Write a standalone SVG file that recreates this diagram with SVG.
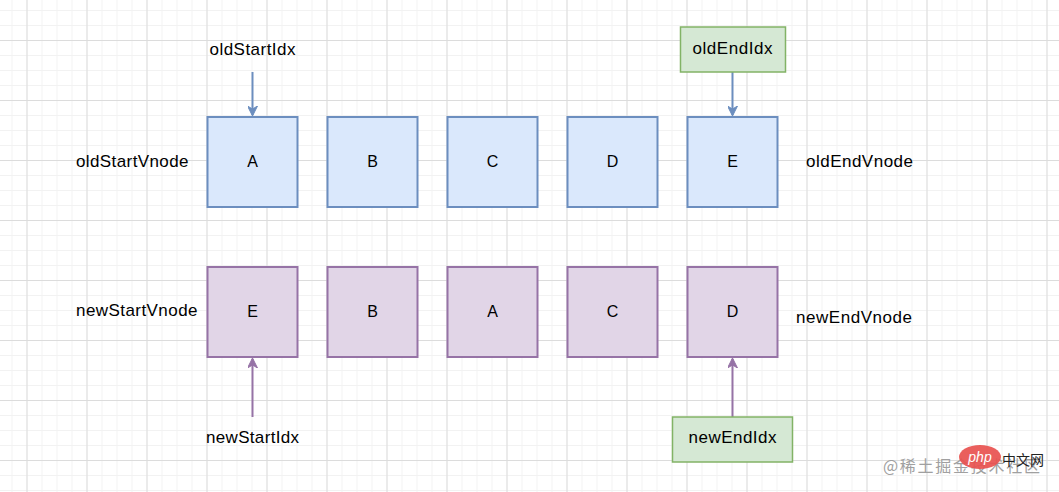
<svg xmlns="http://www.w3.org/2000/svg" width="1059" height="492" viewBox="0 0 1059 492">
<style>
text{font-family:"Liberation Sans",Arial,sans-serif;font-size:16px;fill:#000}
.lbl{font-size:17px}
.blue{fill:#dae8fc;stroke:#6c8ebf;stroke-width:2}
.purple{fill:#e1d5e7;stroke:#9673a6;stroke-width:2}
.green{fill:#d5e8d4;stroke:#82b366;stroke-width:1.5}
.mid{text-anchor:middle}
.cb{stroke:#6c8ebf;stroke-width:2;fill:none}
.cp{stroke:#9673a6;stroke-width:2;fill:none}
</style>
<defs>
<pattern id="minor" patternUnits="userSpaceOnUse" x="11.5" y="10" width="15" height="15">
<path d="M0.5,0V15M0,0.5H15" stroke="#f2f2f2" stroke-width="1" fill="none"/>
</pattern>
<pattern id="major" patternUnits="userSpaceOnUse" x="26.5" y="40" width="60" height="60">
<path d="M0.5,0V60M0,0.5H60" stroke="#dcdcdc" stroke-width="1" fill="none"/>
</pattern>
<marker id="ab" viewBox="0 0 10 10" refX="9" refY="5" markerWidth="10" markerHeight="10" markerUnits="userSpaceOnUse" orient="auto">
<path d="M0,0L10,5L0,10L3,5z" fill="#6c8ebf" stroke="#6c8ebf" stroke-width="1"/>
</marker>
<marker id="ap" viewBox="0 0 10 10" refX="9" refY="5" markerWidth="10" markerHeight="10" markerUnits="userSpaceOnUse" orient="auto">
<path d="M0,0L10,5L0,10L3,5z" fill="#9673a6" stroke="#9673a6" stroke-width="1"/>
</marker>
</defs>
<rect width="1059" height="492" fill="#ffffff"/>
<rect width="1059" height="492" fill="url(#minor)"/>
<rect width="1059" height="492" fill="url(#major)"/>

<g id="connectors">
<path class="cb" d="M252.5,72V115" marker-end="url(#ab)"/>
<path class="cb" d="M732.5,72V115" marker-end="url(#ab)"/>
<path class="cp" d="M252.5,417V359" marker-end="url(#ap)"/>
<path class="cp" d="M732.5,417V359" marker-end="url(#ap)"/>
</g>

<g id="label-oldStartIdx"><text class="lbl mid" x="252.5" y="55" textLength="86">oldStartIdx</text></g>
<g id="label-oldStartVnode"><text class="lbl" x="76" y="167" textLength="112.5">oldStartVnode</text></g>
<g id="label-oldEndVnode"><text class="lbl" x="806" y="167" textLength="107">oldEndVnode</text></g>
<g id="label-newStartVnode"><text class="lbl" x="76" y="316" textLength="121.5">newStartVnode</text></g>
<g id="label-newEndVnode"><text class="lbl" x="796" y="323" textLength="116">newEndVnode</text></g>
<g id="label-newStartIdx"><text class="lbl mid" x="252.5" y="443" textLength="93">newStartIdx</text></g>

<g id="oldEndIdx"><rect class="green" x="680.5" y="27" width="105" height="45"/><text class="lbl mid" x="732.5" y="54" textLength="80">oldEndIdx</text></g>
<g id="newEndIdx"><rect class="green" x="672.5" y="417" width="120" height="45"/><text class="lbl mid" x="732.5" y="443" textLength="88">newEndIdx</text></g>

<g id="old-A"><rect class="blue" x="207.5" y="117" width="90" height="90"/><text class="mid" x="252.5" y="167">A</text></g>
<g id="old-B"><rect class="blue" x="327.5" y="117" width="90" height="90"/><text class="mid" x="372.5" y="167">B</text></g>
<g id="old-C"><rect class="blue" x="447.5" y="117" width="90" height="90"/><text class="mid" x="492.5" y="167">C</text></g>
<g id="old-D"><rect class="blue" x="567.5" y="117" width="90" height="90"/><text class="mid" x="612.5" y="167">D</text></g>
<g id="old-E"><rect class="blue" x="687.5" y="117" width="90" height="90"/><text class="mid" x="732.5" y="167">E</text></g>

<g id="new-E"><rect class="purple" x="207.5" y="267" width="90" height="90"/><text class="mid" x="252.5" y="317">E</text></g>
<g id="new-B"><rect class="purple" x="327.5" y="267" width="90" height="90"/><text class="mid" x="372.5" y="317">B</text></g>
<g id="new-A"><rect class="purple" x="447.5" y="267" width="90" height="90"/><text class="mid" x="492.5" y="317">A</text></g>
<g id="new-C"><rect class="purple" x="567.5" y="267" width="90" height="90"/><text class="mid" x="612.5" y="317">C</text></g>
<g id="new-D"><rect class="purple" x="687.5" y="267" width="90" height="90"/><text class="mid" x="732.5" y="317">D</text></g>

<g id="watermark">
<text x="883" y="472" style="font-family:'Noto Sans CJK SC','Liberation Sans',sans-serif;font-size:16px;fill:#a0a0a0" textLength="157">@稀土掘金技术社区</text>
<ellipse cx="980" cy="457" rx="21" ry="12" fill="#e8514f" opacity="0.92"/>
<text x="980" y="462" class="mid" style="font-family:'Liberation Sans',sans-serif;font-size:14px;font-style:italic;fill:#ffffff">php</text>
<text x="1002" y="465" style="font-family:'Noto Sans CJK SC',sans-serif;font-size:14px;fill:#222">中文网</text>
</g>
</svg>
